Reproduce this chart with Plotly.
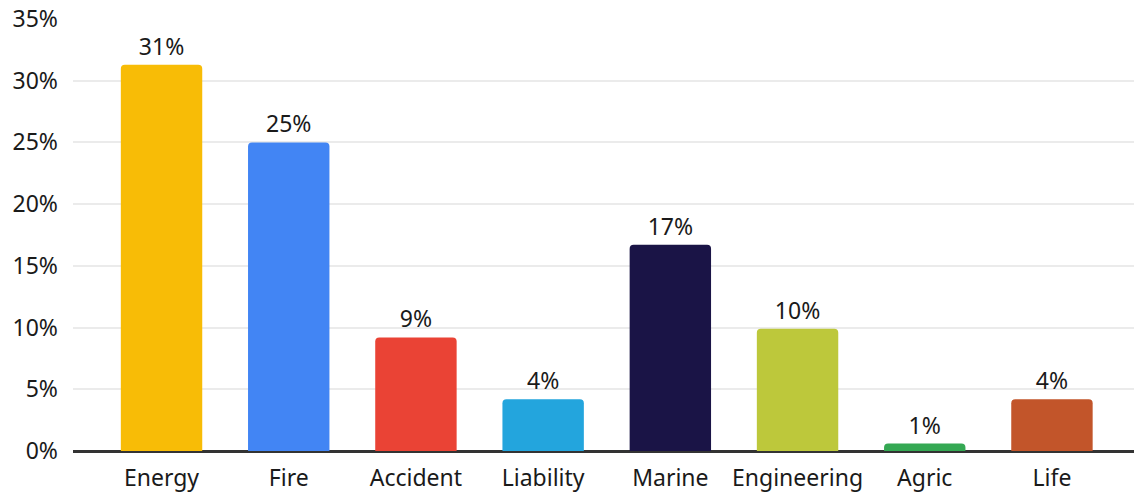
import plotly.graph_objects as go

categories = ["Energy", "Fire", "Accident", "Liability", "Marine", "Engineering", "Agric", "Life"]
values = [31.3, 25.0, 9.2, 4.2, 16.7, 9.9, 0.6, 4.2]
labels = ["31%", "25%", "9%", "4%", "17%", "10%", "1%", "4%"]
colors = ["#F8BC06", "#4285F4", "#EA4335", "#23A5DD", "#1A1446", "#BDC83B", "#34A853", "#C2552A"]
y_ticks = [0, 5, 10, 15, 20, 25, 30, 35]
y_tick_labels = [f"{v}%" for v in y_ticks]

font_family = "Noto Sans"
font_size = 23

fig = go.Figure(
    go.Bar(
        x=categories,
        y=values,
        text=labels,
        textposition="outside",
        textfont=dict(family=font_family, size=font_size, color="#1a1a1a"),
        cliponaxis=False,
        marker=dict(color=colors, cornerradius=4, line=dict(width=0)),
        width=0.64,
        hoverinfo="skip",
    )
)

fig.update_layout(
    width=1134,
    height=494,
    margin=dict(l=73, r=0, t=19, b=43),
    paper_bgcolor="white",
    plot_bgcolor="white",
    showlegend=False,
    font=dict(family=font_family, size=font_size, color="#1a1a1a"),
    xaxis=dict(
        range=[-0.696, 7.645],
        showgrid=False,
        showline=False,
        zeroline=False,
        ticks="",
        tickfont=dict(family=font_family, size=font_size, color="#1a1a1a"),
        ticklabelstandoff=11,
    ),
    yaxis=dict(
        range=[0, 35],
        tickvals=y_ticks,
        ticktext=y_tick_labels,
        showgrid=True,
        gridcolor="#ebebeb",
        gridwidth=2,
        zeroline=True,
        zerolinecolor="#333333",
        zerolinewidth=3,
        showline=False,
        ticks="",
        tickfont=dict(family=font_family, size=font_size, color="#1a1a1a"),
        ticklabelstandoff=14,
    ),
)

fig.write_html("out.html")
